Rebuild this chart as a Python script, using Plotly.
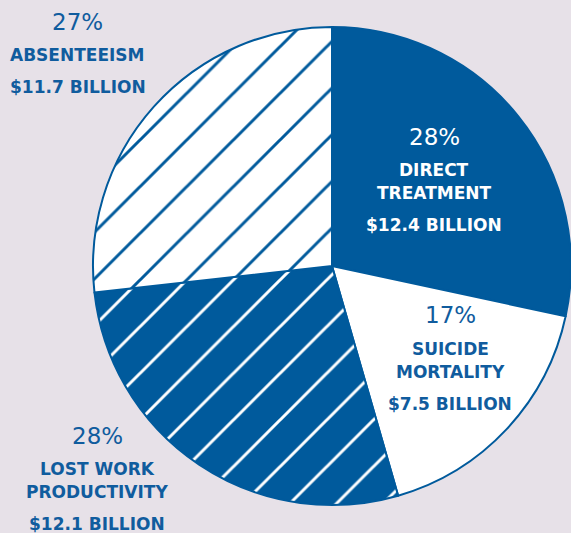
import plotly.graph_objects as go

labels = ["DIRECT<br>TREATMENT", "SUICIDE<br>MORTALITY", "LOST WORK<br>PRODUCTIVITY", "ABSENTEEISM"]
values = [12.4, 7.5, 12.1, 11.7]
value_text = ["$12.4 BILLION", "$7.5 BILLION", "$12.1 BILLION", "$11.7 BILLION"]

BLUE = "#005a9c"
WHITE = "#ffffff"
BG = "#e7e1e8"
TXT = "#105c9e"

fig = go.Figure(go.Pie(
    labels=labels, values=values, sort=False, direction="clockwise", rotation=0,
    textinfo="none", hoverinfo="label+value",
    domain=dict(x=[93/571, 1.0], y=[28/533, 506/533]),
    marker=dict(
        colors=[BLUE, WHITE, BLUE, WHITE],
        line=dict(color=BLUE, width=2),
        pattern=dict(shape=["", "", "/", "/"],
                     fgcolor=[WHITE, BLUE, WHITE, BLUE],
                     bgcolor=[BLUE, WHITE, BLUE, WHITE],
                     fillmode="replace", size=33, solidity=0.09),
    ),
    showlegend=False,
))

total = sum(values)
pcts = [f"{round(v / total * 100)}%" for v in values]

# label block anchors (paper px from top-left): center x, y of percent, name lines, value
blocks = [
    dict(x=434, yp=137, yn=[170, 193], yv=225, color=WHITE),
    dict(x=450, yp=315, yn=[349, 372], yv=404, color=TXT),
    dict(x=97, yp=436, yn=[469, 492], yv=524, color=TXT),
    dict(x=78, yp=22, yn=[55], yv=87, color=TXT),
]
W, H = 571, 533
ann = []
for i, b in enumerate(blocks):
    def add(text, y, size, weight):
        ann.append(dict(x=b["x"] / W, y=1 - y / H, xref="paper", yref="paper",
                        text=text, showarrow=False,
                        xanchor="center", yanchor="middle",
                        font=dict(family="DejaVu Sans", size=size, weight=weight,
                                  color=b["color"])))
    add(pcts[i], b["yp"], 23, 400)
    for line, y in zip(labels[i].split("<br>"), b["yn"]):
        add(line, y, 17, 700)
    add(value_text[i], b["yv"], 17, 700)

fig.update_layout(
    width=W, height=H, margin=dict(l=0, r=0, t=0, b=0),
    paper_bgcolor=BG, plot_bgcolor=BG, annotations=ann,
)
fig.write_html("out.html", config={"displayModeBar": False},
               post_script="document.body.style.margin='0';document.body.style.overflow='hidden';")
